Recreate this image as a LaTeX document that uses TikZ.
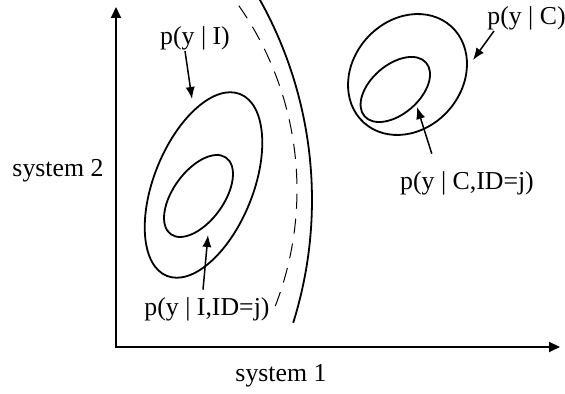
\documentclass[tikz,border=0pt]{standalone}
\usepackage{fontspec}
\setmainfont{Liberation Serif}
\usetikzlibrary{arrows.meta}

\begin{document}
\begin{tikzpicture}[x=0.5pt, y=0.5pt,
    every node/.style={font=\fontsize{12.9}{15}\selectfont, inner sep=0pt},
    axis/.style={line width=1pt, {Triangle[length=5.5pt,width=5pt]}-{Triangle[length=5.5pt,width=5pt]}},
    contour/.style={line width=0.9pt},
    pointer/.style={line width=0.75pt, -{Latex[length=6pt,width=4.6pt]}}]
    \useasboundingbox (0,0) rectangle (565,394);

    % Axes
    \coordinate (Y) at (116,387);
    \coordinate (X) at (560,47);
    \draw[axis] (Y) |- (X);
    \node[anchor=base] (s2) at (58,217) {system 2};
    \node[anchor=base] (s1) at (281,12) {system 1};

    % Contours of class I
    \coordinate (I1) at (203.5,209);
    \draw[contour, rotate around={68:(I1)}] (I1) ellipse [x radius=98, y radius=49.5];
    \coordinate (I2) at (198.5,198);
    \draw[contour, rotate around={54:(I2)}] (I2) ellipse [x radius=47.2, y radius=25.3];

    % Contours of class C
    \coordinate (C1) at (407.5,319.5);
    \draw[contour, rotate around={47.7:(C1)}] (C1) ellipse [x radius=65, y radius=54.5];
    \coordinate (C2) at (395.3,304.5);
    \draw[contour, rotate around={41:(C2)}] (C2) ellipse [x radius=40.8, y radius=24.5];

    % Decision boundaries
    \coordinate (M) at (-98.6,194);
    \draw[contour] (M) ++(-17.4:410.6) arc[start angle=-17.4, end angle=29.2, radius=410.6];
    \coordinate (N) at (-24,204);
    \draw[line width=0.5pt, dash pattern=on 7.5pt off 5pt] (N) ++(-21.2:321) arc[start angle=-21.2, end angle=35.6, radius=321];

    % Labels
    \node[anchor=base] (pI) at (195,349) {p(y | I)};
    \node[anchor=base] (pIj) at (207,78) {p(y | I,ID=j)};
    \node[anchor=base] (pC) at (526.5,369) {p(y | C)};
    \node[anchor=base] (pCj) at (467,204) {p(y | C,ID=j)};

    % Arrow tips on the contours
    \coordinate (tI) at (192,295);
    \coordinate (tIj) at (208,159);
    \coordinate (tC) at (473,334);
    \coordinate (tCj) at (417,287);

    \draw[pointer] ([xshift=-5pt]pI.south) -- (tI);
    \draw[pointer] ([xshift=-2pt,yshift=4pt]pIj.north) -- (tIj);
    \draw[pointer] ([xshift=3.5pt]pC.south west) -- (tC);
    \draw[pointer] ([xshift=16pt,yshift=9pt]pCj.north west) -- (tCj);

\end{tikzpicture}
\end{document}
